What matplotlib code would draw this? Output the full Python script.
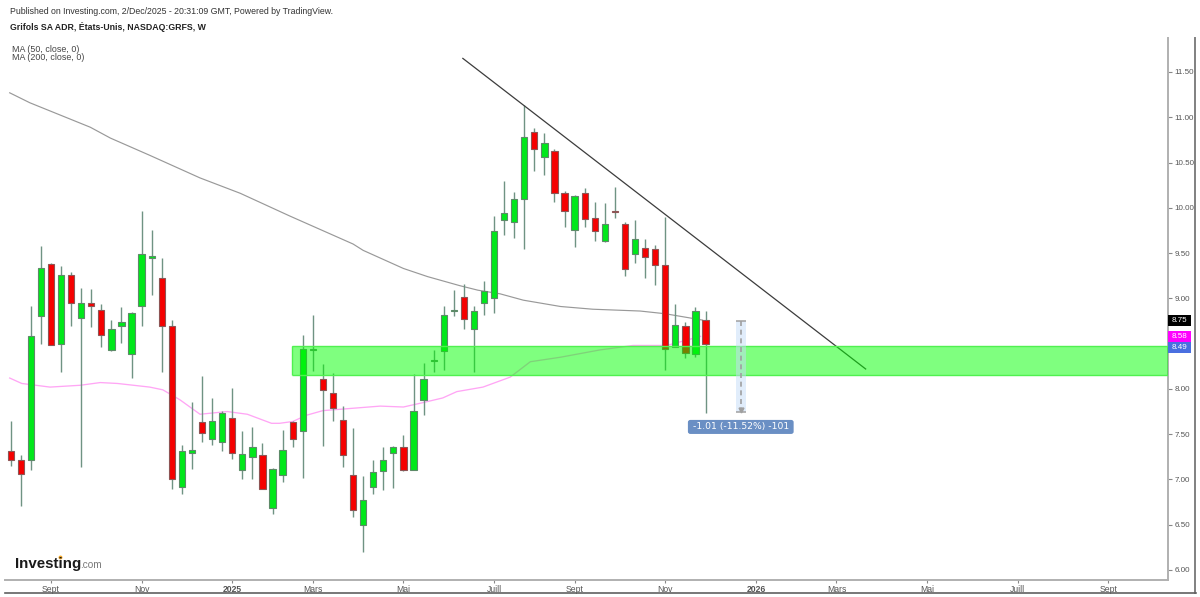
import numpy as np
import matplotlib
matplotlib.use("Agg")
import matplotlib.pyplot as plt
from matplotlib.lines import Line2D
from matplotlib.patches import Rectangle, FancyBboxPatch
from matplotlib.transforms import blended_transform_factory

###### DATA ######
# weekly bars GRFS, one entry per week
opens = [7.31, 7.21, 7.21, 8.80, 9.38, 8.50, 9.26, 8.78, 8.95, 8.87,
         8.43, 8.70, 8.39, 8.92, 9.45, 9.22, 8.70, 6.92, 7.29, 7.63,
         7.45, 7.41, 7.68, 7.10, 7.25, 7.27, 6.69, 7.05, 7.63, 7.53,
         8.43, 8.11, 7.96, 7.66, 7.05, 6.50, 6.92, 7.09, 7.29, 7.36,
         7.10, 7.88, 8.31, 8.42, 8.86, 9.02, 8.66, 8.95, 9.00, 9.86,
         9.84, 10.10, 10.84, 10.56, 10.63, 10.16, 9.76, 10.16, 9.89, 9.63,
         9.96, 9.82, 9.49, 9.56, 9.54, 9.37, 8.46, 8.70, 8.38, 8.76]
highs = [7.64, 7.27, 8.92, 9.58, 9.39, 9.36, 9.29, 9.11, 9.10, 8.94,
         8.76, 8.90, 8.85, 9.97, 9.75, 9.45, 8.76, 7.38, 7.86, 8.14,
         7.90, 7.76, 8.01, 7.54, 7.58, 7.40, 7.13, 7.55, 7.64, 8.60,
         8.82, 8.27, 8.18, 7.81, 7.57, 7.04, 7.21, 7.36, 7.37, 7.49,
         8.16, 8.29, 8.43, 8.92, 9.09, 9.16, 8.92, 9.19, 9.91, 10.30,
         10.17, 11.14, 10.88, 10.83, 10.65, 10.19, 10.14, 10.22, 10.06, 10.05,
         10.23, 9.84, 9.86, 9.65, 9.59, 9.90, 8.94, 8.74, 8.90, 8.86]
lows = [7.15, 6.71, 7.10, 8.50, 8.48, 8.19, 8.70, 7.14, 8.68, 8.46,
        8.42, 8.51, 8.12, 8.70, 9.04, 8.19, 6.89, 6.84, 7.12, 7.41,
        7.38, 7.31, 7.23, 7.01, 7.00, 6.89, 6.62, 6.97, 7.36, 7.02,
        8.20, 7.37, 7.65, 7.14, 6.58, 6.20, 6.84, 6.88, 6.91, 7.09,
        7.10, 7.71, 8.19, 8.21, 8.80, 8.66, 8.19, 8.82, 8.84, 9.70,
        9.67, 9.54, 10.41, 10.36, 10.06, 9.79, 9.57, 9.79, 9.63, 9.62,
        9.89, 9.25, 9.39, 9.23, 9.15, 8.21, 8.46, 8.34, 8.35, 7.73]
closes = [7.21, 7.06, 8.58, 9.34, 8.49, 9.26, 8.95, 8.95, 8.92, 8.59,
          8.66, 8.74, 8.84, 9.49, 9.47, 8.70, 7.00, 7.31, 7.33, 7.51,
          7.65, 7.73, 7.29, 7.28, 7.36, 6.89, 7.12, 7.33, 7.45, 8.44,
          8.44, 7.99, 7.79, 7.27, 6.66, 6.77, 7.08, 7.21, 7.36, 7.10,
          7.76, 8.11, 8.32, 8.82, 8.87, 8.77, 8.86, 9.08, 9.74, 9.94,
          10.10, 10.78, 10.65, 10.72, 10.16, 9.97, 10.13, 9.88, 9.74, 9.82,
          9.95, 9.32, 9.65, 9.46, 9.37, 8.44, 8.71, 8.40, 8.86, 8.50]

ma200_weeks = [-0.1, 1.9, 7.9, 9.9, 13.8, 18.8, 22.8, 27.7, 34, 35, 39, 41.4,
               44.6, 46.4, 48.6, 50.9, 54.6, 57.8, 62.5, 65, 68.7]
ma200_vals = [11.27, 11.16, 10.89, 10.77, 10.58, 10.33, 10.16, 9.91, 9.60, 9.53,
              9.33, 9.24, 9.14, 9.09, 9.05, 8.98, 8.91, 8.88, 8.86, 8.83, 8.76]
ma50_weeks = [-0.1, 1.1, 3.9, 6.9, 8.9, 10.6, 13.8, 15.1, 16.8, 18.8, 21.5, 23.5,
              25.9, 26.7, 28, 29.4, 31, 36.7, 39, 41, 42.9, 44.3, 46.9, 49.6,
              51.6, 54.6, 58.5, 61.8, 64.8, 65.5, 68.5]
ma50_vals = [8.12, 8.06, 8.02, 8.04, 8.07, 8.06, 8.02, 7.99, 7.88, 7.72, 7.75, 7.72,
             7.62, 7.62, 7.64, 7.71, 7.76, 7.81, 7.80, 7.85, 7.90, 7.97, 8.02, 8.13,
             8.30, 8.35, 8.43, 8.48, 8.48, 8.49, 8.58]

# drawings
trend_weeks = [44.9, 84.9]
trend_vals = [11.65, 8.22]
zone_low, zone_high = 8.15, 8.47
zone_start = 27.93
measure_weeks = [72.0, 73.0]
measure_vals = [8.75, 7.74]
measure_text = "-1.01 (-11.52%) -101"
measure_label_y = 7.58

# axes labels
price_ticks = [6.0 + 0.5 * i for i in range(12)]
hidden_price = [8.5]  # sits under the last value flags
date_weeks = [4, 13, 22, 30, 39, 48, 56, 65, 74, 82, 91, 100, 109]
date_labels = ["Sept", "Nov", "2025", "Mars", "Mai", "Juill", "Sept", "Nov",
               "2026", "Mars", "Mai", "Juill", "Sept"]
bold_dates = ["2025", "2026"]
last_labels = ["8.75", "8.58", "8.49"]
last_pos = [8.755, 8.58, 8.457]
last_colors = ["#000000", "#ff00ff", "#4a6fe0"]

###### FIGURE ######
W, H = 1200, 597
plt.rcParams["font.family"] = ["Liberation Sans", "DejaVu Sans"]
fig = plt.figure(figsize=(12, 5.97), dpi=100)
left, right, top, bottom = 5, 1168, 38, 580
ax = fig.add_axes([left / W, 1 - bottom / H, (right - left) / W, (bottom - top) / H])
ax.set_xlim((left - 10.7) / 10.07, (right - 10.7) / 10.07)
ax.set_ylim(6 - (bottom - 570) / 90.55, 6 + (570 - top) / 90.55)

###### CANDLES ######
weeks = np.arange(len(opens))
o, h, l, c = map(np.array, (opens, highs, lows, closes))
up = c >= o
ax.vlines(weeks, l, h, color="#6f9383", lw=1.0, zorder=2)
ax.bar(weeks[up], (c - o)[up], bottom=o[up], width=0.62, color="#00e81a",
       edgecolor="#5d8a68", lw=0.8, zorder=3)
ax.bar(weeks[~up], (c - o)[~up], bottom=o[~up], width=0.62, color="#f50000",
       edgecolor="#8d5555", lw=0.8, zorder=3)

###### MOVING AVERAGES ######
ax.plot(ma200_weeks, ma200_vals, color="#999999", lw=0.85, zorder=1)
ax.plot(ma50_weeks, ma50_vals, color="#ffa6f5", lw=0.95, zorder=1)

###### DRAWINGS ######
ax.plot(trend_weeks, trend_vals, color="#3c3c3c", lw=0.9, zorder=2)
ax.add_patch(Rectangle((zone_start, zone_low), ax.get_xlim()[1] - zone_start,
                       zone_high - zone_low, facecolor="#00ff00", alpha=0.5,
                       edgecolor="none", zorder=4))
ax.hlines([zone_low, zone_high], zone_start, ax.get_xlim()[1], color="#50f050", lw=1.0, zorder=4)
ax.vlines(zone_start, zone_low, zone_high, color="#50f050", lw=1.0, zorder=4)

mx0, mx1 = measure_weeks
ax.add_patch(Rectangle((mx0, measure_vals[1]), mx1 - mx0, measure_vals[0] - measure_vals[1],
                       facecolor="#c4dcf8", alpha=0.5, edgecolor="none", zorder=5))
ax.hlines(measure_vals, mx0, mx1, color="#a0a0a0", lw=1.1, zorder=6)
ax.plot([(mx0 + mx1) / 2] * 2, measure_vals, color="#a0a0a0", lw=1.2, ls=(0, (3, 2.2)), zorder=6)
ax.plot((mx0 + mx1) / 2, measure_vals[1] + 0.03, marker="v", ms=3.5, color="#a0a0a0", zorder=6)
box_w, box_h = 10.5, 0.155
ax.add_patch(FancyBboxPatch((72.5 - box_w / 2, measure_label_y - box_h / 2), box_w, box_h,
                            boxstyle="round,pad=0,rounding_size=0.25", mutation_aspect=0.1,
                            facecolor="#6a8fc4", edgecolor="none", clip_on=False, zorder=7))
ax.text(72.5, measure_label_y, measure_text, color="white", fontsize=6.7, family="DejaVu Sans",
        ha="center", va="center", zorder=8)

###### AXES ######
for s in ax.spines.values():
    s.set_visible(False)
for side in ("right", "bottom"):
    ax.spines[side].set_visible(True)
    ax.spines[side].set_color("#b0b0b0")
    ax.spines[side].set_linewidth(1.4)
ax.yaxis.tick_right()
ax.set_yticks(price_ticks)
ax.set_yticklabels(["" if p in hidden_price else "%.2f" % p for p in price_ticks])
ax.set_xticks(date_weeks)
ax.set_xticklabels(date_labels)
ax.tick_params(axis="y", length=3, width=0.8, color="#888888", labelcolor="#555555",
               labelsize=5.8, pad=1.5)
ax.tick_params(axis="x", length=2.5, width=0.8, color="#888888", labelcolor="#555555",
               labelsize=6.2, pad=1)
for lab in ax.get_xticklabels():
    if lab.get_text() in bold_dates:
        lab.set_fontweight("bold")

# last value flags on the price scale
tr = blended_transform_factory(ax.transAxes, ax.transData)
flag_w = 23 / (right - left)
flag_h = 11.5 / 90.55
for text, pos, col in zip(last_labels, last_pos, last_colors):
    ax.add_patch(Rectangle((1.0, pos - flag_h / 2), flag_w, flag_h, transform=tr,
                           facecolor=col, edgecolor="none", clip_on=False, zorder=9))
    ax.text(1.0 + flag_w / 2, pos, text, transform=tr, color="white", fontsize=5.8,
            ha="center", va="center", zorder=10)

# outer frame
fig.add_artist(Line2D([1194.7 / W, 1194.7 / W], [1 - 38 / H, 1 - 593 / H], color="#808080", lw=1.4))
fig.add_artist(Line2D([5 / W, 1195.5 / W], [1 - 593 / H, 1 - 593 / H], color="#606060", lw=1.2))

###### TEXT ######
fig.text(10 / W, 1 - 11.5 / H, "Published on Investing.com, 2/Dec/2025 - 20:31:09 GMT, Powered by TradingView.",
         fontsize=6.3, color="#333333", va="center")
fig.text(10 / W, 1 - 27 / H, "Grifols SA ADR, États-Unis, NASDAQ:GRFS, W",
         fontsize=6.3, fontweight="bold", color="#222222", va="center")
fig.text(12 / W, 1 - 49 / H, "MA (50, close, 0)", fontsize=6.4, color="#444444", va="center")
fig.text(12 / W, 1 - 57.5 / H, "MA (200, close, 0)", fontsize=6.4, color="#444444", va="center")

# logo
fig.text(14.5 / W, 1 - 564 / H, "Investing", fontsize=10.9, fontweight="bold", color="#1a1a1a", va="center")
fig.text(80.5 / W, 1 - 565.5 / H, ".com", fontsize=7.2, color="#777777", va="center")
fig.add_artist(Line2D([59.5 / W], [1 - 557 / H], marker="o", ms=1.8, color="#f5a623", lw=0))

fig.savefig("out.png", dpi=100)
